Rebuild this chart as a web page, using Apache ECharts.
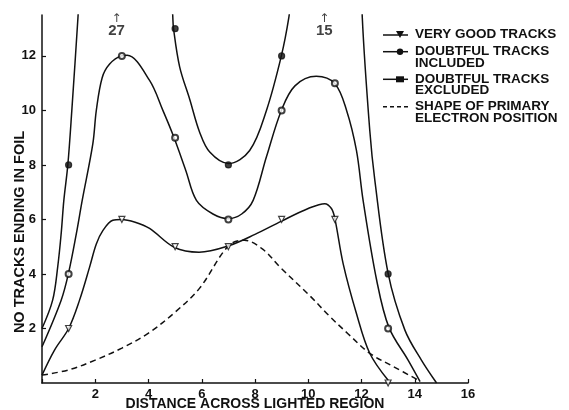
<!DOCTYPE html>
<html>
<head>
<meta charset="utf-8">
<title>Tracks ending in foil</title>
<script src="https://cdn.jsdelivr.net/npm/echarts@6/dist/echarts.min.js"></script>
<style>
  html, body { margin: 0; padding: 0; background: #fff; }
  #chart { width: 569px; height: 410px; }
</style>
</head>
<body>
<div id="chart"></div>
<script>
// ticks
var xTicks = [2, 4, 6, 8, 10, 12, 14, 16];
var yTicks = [2, 4, 6, 8, 10, 12];

// curve (null = curve leaves the plot)
var includedCurve = [
  [0, 2], [0.4, 3.04], [0.59, 4.26], [0.72, 5.48], [0.82, 6.7], [0.97, 8.0], [1.12, 10], [1.35, 13.4], [1.38, 14],
  null,
  [4.88, 14], [4.91, 13.48], [4.94, 13], [5.17, 11.6], [5.55, 10.4], [5.92, 9.2], [6.3, 8.47], [7, 8.05],
  [7.8, 8.53], [8.43, 10], [8.99, 12], [9.27, 13.4], [9.32, 14],
  null,
  [12.02, 14], [12.03, 13.4], [12.31, 9.27], [12.5, 7.44], [13, 4.02], [13.63, 1.94], [14.25, 0.84], [14.82, 0]
];
var excludedCurve = [
  [0, 1.33], [0.72, 3.04], [1.0, 4.05], [1.29, 5.48], [1.51, 6.7], [1.91, 8.78], [2.04, 10], [2.26, 11.2],
  [2.54, 11.7], [2.98, 12.0], [3.2, 12.02], [4.04, 11.1], [4.54, 10], [4.94, 9.05], [5.4, 7.8], [5.8, 6.7],
  [6.42, 6.2], [7, 6.03], [7.5, 6.2], [7.93, 6.7], [8.43, 8.3], [8.99, 10], [9.5, 10.9], [10.3, 11.25],
  [11.0, 10.98], [11.44, 10], [11.81, 8.53], [12.06, 6.7], [12.57, 3.77], [13.03, 2.04], [13.75, 0.84], [14.2, 0.05]
];
var veryGoodCurve = [
  [0, 0.29], [0.47, 1.21], [1.0, 2.0], [1.41, 3.04], [1.79, 4.26], [2.04, 5.1], [2.29, 5.6], [2.66, 5.97],
  [2.98, 6.0], [3.5, 5.9], [4.04, 5.67], [4.98, 4.97], [5.9, 4.8], [7.0, 5.03], [8, 5.45], [9, 5.94],
  [10, 6.4], [10.62, 6.58], [10.87, 6.4], [11, 6.03], [11.31, 4.38], [11.81, 2.55], [12.31, 1.09], [13, 0.1]
];
var primaryShape = [
  [0, 0.29], [1, 0.48], [2, 0.84], [3, 1.28], [4, 1.83], [5, 2.6], [5.92, 3.48], [7, 5.03], [7.6, 5.24],
  [8.3, 4.9], [8.93, 4.26], [10.06, 3.2], [10.8, 2.45], [11.5, 1.8], [12.31, 1.09], [13.2, 0.6], [14.15, 0.1]
];

// measured points
var includedPts = [[1, 8], [5, 13], [7, 8], [9, 12], [13, 4]];
var excludedPts = [[1, 4], [3, 12], [5, 9], [7, 6], [9, 10], [11, 11], [13, 2]];
var veryGoodPts = [[1, 2], [3, 6], [5, 5], [7, 5], [9, 6], [11, 6], [13, 0]];

// off-scale counts marked at the top
var offScale = [[2.8, 13.1, '27'], [10.6, 13.1, '15']];

var FONT = 'Liberation Sans';
var chart = echarts.init(document.getElementById('chart'));

function curve(name, data, dashed) {
  return {
    name: name, type: 'line', data: data, smooth: 0.35, showSymbol: false,
    connectNulls: false, clip: true, silent: true,
    lineStyle: { color: '#111', width: 1.5, type: dashed ? [6, 4] : 'solid' }
  };
}
function points(data, symbol, fill, rotate) {
  return {
    type: 'scatter', data: data, symbol: symbol, symbolSize: 6, symbolRotate: rotate || 0,
    itemStyle: { color: fill, borderColor: '#111', borderWidth: 1.2 }, z: 5, clip: false
  };
}

var legendItems = [
  { y: 35, lines: ['VERY GOOD TRACKS'], sym: 'tri' },
  { y: 51.7, lines: ['DOUBTFUL TRACKS', 'INCLUDED'], sym: 'dot' },
  { y: 79.3, lines: ['DOUBTFUL TRACKS', 'EXCLUDED'], sym: 'sq' },
  { y: 106.7, lines: ['SHAPE OF PRIMARY', 'ELECTRON POSITION'], sym: 'dash' }
];
var graphics = [
  // y axis title, sits a little below the plot middle as in the original
  { type: 'text', x: 20, y: 232, rotation: Math.PI / 2,
    style: { text: 'NO TRACKS ENDING IN FOIL', font: 'bold 14.5px ' + FONT, fill: '#111',
      textAlign: 'center', textVerticalAlign: 'middle' } }
];
legendItems.forEach(function (it) {
  it.lines.forEach(function (t, i) {
    graphics.push({ type: 'text', left: 415, top: it.y - 7.5 + i * 11.6,
      style: { text: t, font: 'bold 13.5px ' + FONT, fill: '#111' } });
  });
  if (it.sym === 'dash') {
    graphics.push({ type: 'line', shape: { x1: 383, y1: it.y, x2: 408, y2: it.y },
      style: { stroke: '#111', lineWidth: 1.5, lineDash: [4, 3] } });
  } else {
    graphics.push({ type: 'line', shape: { x1: 383, y1: it.y, x2: 408, y2: it.y },
      style: { stroke: '#111', lineWidth: 1.5 } });
    if (it.sym === 'tri') {
      graphics.push({ type: 'polygon', shape: { points: [[396, it.y - 4], [404, it.y - 4], [400, it.y + 3]] },
        style: { fill: '#111' } });
    } else if (it.sym === 'dot') {
      graphics.push({ type: 'circle', shape: { cx: 400, cy: it.y, r: 3.2 }, style: { fill: '#111' } });
    } else {
      graphics.push({ type: 'rect', shape: { x: 396, y: it.y - 3, width: 8, height: 6 }, style: { fill: '#111' } });
    }
  }
});

chart.setOption({
  animation: false,
  backgroundColor: '#fff',
  grid: { left: 42, right: 101, top: 15, bottom: 27, containLabel: false, outerBoundsMode: 'none' },
  xAxis: {
    type: 'value', min: 0, max: 16, interval: 2,
    name: 'DISTANCE ACROSS LIGHTED REGION', nameLocation: 'middle', nameGap: 14, nameMoveOverlap: false,
    nameTextStyle: { fontFamily: FONT, fontWeight: 'bold', fontSize: 14, color: '#111', verticalAlign: 'top' },
    axisLine: { lineStyle: { color: '#111', width: 1.5 } },
    axisTick: { inside: true, length: 4, lineStyle: { color: '#111', width: 1.2 } },
    axisLabel: { margin: 5, fontFamily: FONT, fontWeight: 'bold', fontSize: 13, color: '#111',
      formatter: function (v) { return xTicks.indexOf(v) >= 0 ? String(v) : ''; } },
    splitLine: { show: false }
  },
  yAxis: {
    type: 'value', min: 0, max: 13.5,
    axisLine: { show: true, lineStyle: { color: '#111', width: 1.5 } },
    axisTick: { show: true, inside: true, length: 4, customValues: yTicks, lineStyle: { color: '#111', width: 1.2 } },
    axisLabel: { margin: 6, customValues: yTicks, fontFamily: FONT, fontWeight: 'bold', fontSize: 13, color: '#111' },
    splitLine: { show: false }
  },
  series: [
    curve('DOUBTFUL TRACKS INCLUDED', includedCurve),
    curve('DOUBTFUL TRACKS EXCLUDED', excludedCurve),
    curve('VERY GOOD TRACKS', veryGoodCurve),
    curve('SHAPE OF PRIMARY ELECTRON POSITION', primaryShape, true),
    points(includedPts, 'circle', '#111'),
    points(excludedPts, 'emptyCircle', '#111'),
    points(veryGoodPts, 'triangle', '#fff', 180),
    {
      type: 'scatter', data: offScale, symbol: 'circle', symbolSize: 1, clip: false, z: 6,
      itemStyle: { color: 'rgba(0,0,0,0)' },
      label: {
        show: true, position: 'inside', color: '#111',
        formatter: function (p) { return '{a|↑}\n{b|' + p.data[2] + '}'; },
        rich: {
          a: { fontSize: 12, color: '#111', lineHeight: 10, fontFamily: 'DejaVu Sans', align: 'center' },
          b: { fontSize: 15, fontWeight: 'bold', color: '#111', lineHeight: 15, fontFamily: FONT, align: 'center' }
        }
      }
    }
  ],
  graphic: graphics
});
</script>
</body>
</html>
